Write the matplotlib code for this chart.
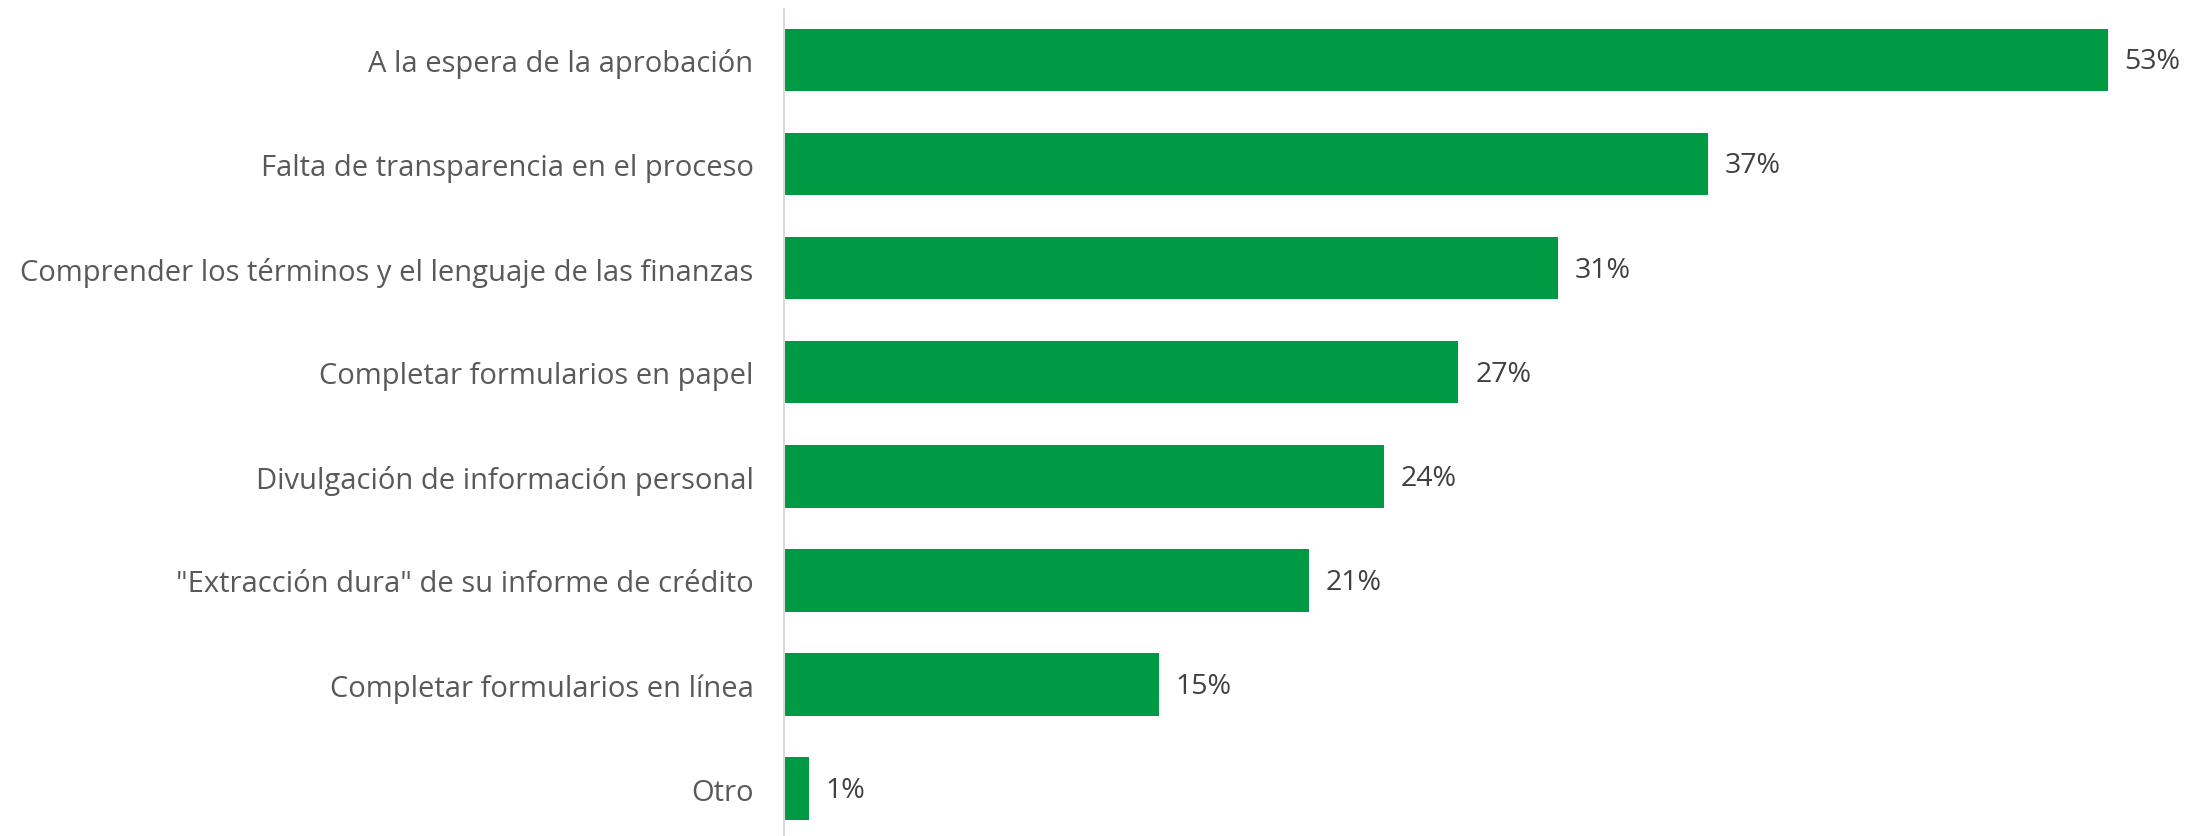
import matplotlib
matplotlib.use("Agg")
import matplotlib.pyplot as plt

plt.rcParams["font.family"] = ["Open Sans", "DejaVu Sans"]

# datos de la encuesta
categorias = [
    "A la espera de la aprobación",
    "Falta de transparencia en el proceso",
    "Comprender los términos y el lenguaje de las finanzas",
    "Completar formularios en papel",
    "Divulgación de información personal",
    "\"Extracción dura\" de su informe de crédito",
    "Completar formularios en línea",
    "Otro",
]
valores = [53, 37, 31, 27, 24, 21, 15, 1]

W, H = 2187, 837
fig = plt.figure(figsize=(W / 100, H / 100), dpi=100)
ax = fig.add_axes([784 / W, 0, (W - 784) / W, (H - 10) / H])

y = list(range(len(categorias)))
ax.barh(y, valores, height=0.6, color="#009A44")

xmax = 53 * (W - 784) / 1324
ax.set_xlim(0, xmax)
ax.set_ylim(len(categorias) - 1 + 0.456, -0.49)

for yi, v in zip(y, valores):
    ax.annotate(f"{v}%", (v, yi), xytext=(12, -1), textcoords="offset points",
                ha="left", va="center", fontsize=20.5, color="#404040")

ax.set_yticks(y)
ax.set_yticklabels(categorias, fontsize=21, color="#595959")
ax.tick_params(axis="y", length=0, pad=22)
ax.set_xticks([])

for s in ["top", "right", "bottom"]:
    ax.spines[s].set_visible(False)
ax.spines["left"].set_color("#d9d9d9")
ax.spines["left"].set_linewidth(1.5)

fig.savefig("out.png", dpi=100)
